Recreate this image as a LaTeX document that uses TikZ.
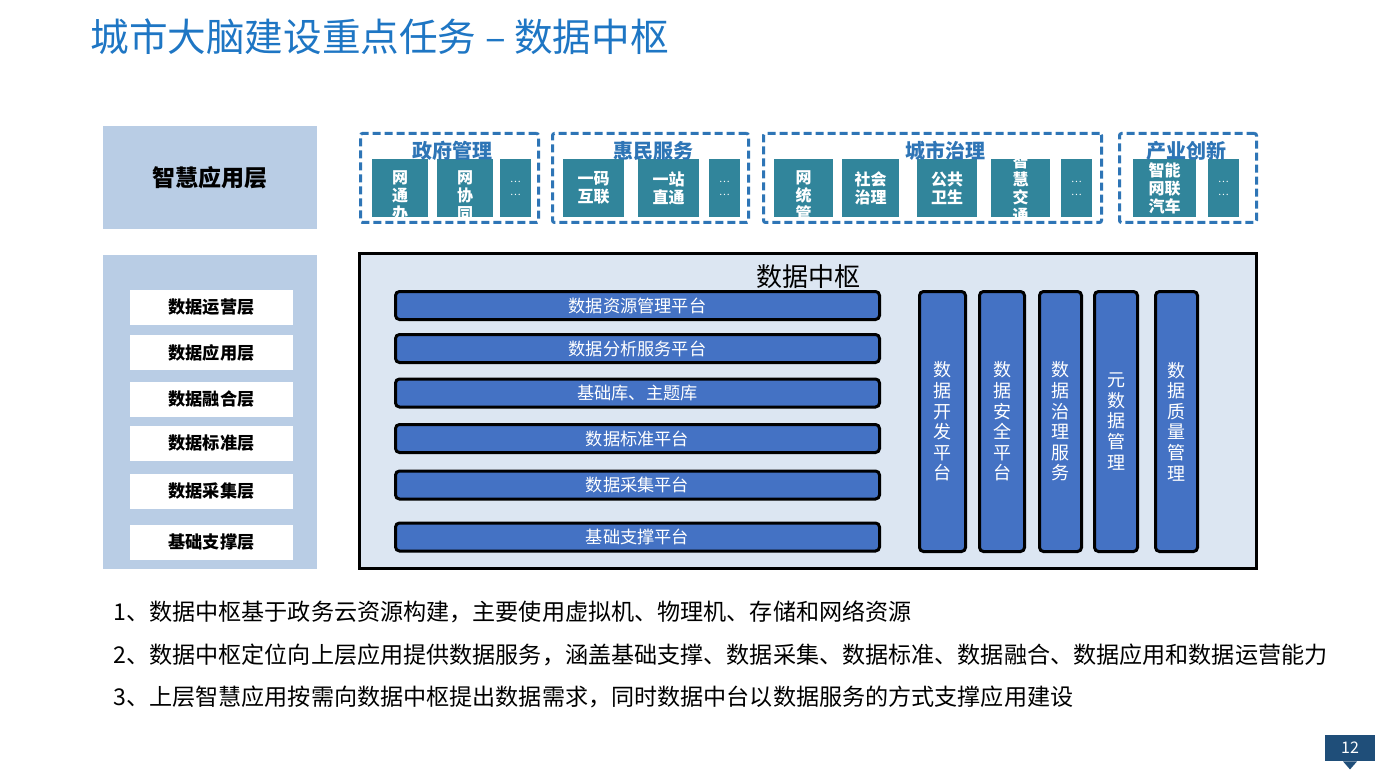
\documentclass[tikz,border=0pt]{standalone}
\usepackage{fontspec}
\setmainfont{Noto Sans CJK SC}
\usepackage{tikz}
\definecolor{titleblue}{RGB}{30,118,196}
\definecolor{panelblue}{RGB}{185,205,229}
\definecolor{hubfill}{RGB}{220,230,242}
\definecolor{barblue}{RGB}{68,114,196}
\definecolor{appteal}{RGB}{49,133,155}
\definecolor{groupblue}{RGB}{46,117,182}
\definecolor{pageblue}{RGB}{31,78,121}
\tikzset{
  panel/.style={fill=panelblue, inner sep=0pt, outer sep=0pt},
  layerbox/.style={fill=white, minimum width=81.5pt, minimum height=17.5pt, inner sep=0pt,
    font=\bfseries\fontsize{8.6pt}{10pt}\selectfont},
  hub/.style={draw=black, line width=1.5pt, fill=hubfill, inner sep=0pt},
  hbar/.style={draw=black, line width=1.5pt, fill=barblue, rounded corners=2pt, text=white,
    minimum width=242pt, minimum height=14pt, inner sep=0pt,
    font=\fontsize{8.6pt}{10pt}\selectfont},
  vbar/.style={draw=black, line width=1.5pt, fill=barblue, rounded corners=2pt, text=white,
    minimum height=130pt, inner sep=0pt, align=center,
    font=\fontsize{9pt}{10.3pt}\selectfont},
  groupbox/.style={draw=groupblue, line width=1.5pt, dash pattern=on 4pt off 2pt,
    rounded corners=1pt, minimum height=44.5pt, inner sep=0pt},
  grouptitle/.style={text=groupblue, inner sep=0pt, font=\bfseries\fontsize{10pt}{12pt}\selectfont},
  appbox/.style={fill=appteal, minimum height=29pt, inner sep=0pt, outer sep=0pt},
  apptext/.style={text=white, align=center, inner sep=0pt,
    font=\bfseries\fontsize{8pt}{9pt}\selectfont},
  dotstext/.style={text=white, align=center, inner sep=0pt,
    font=\fontsize{5pt}{6.5pt}\selectfont},
  note/.style={anchor=west, inner sep=0pt, font=\fontsize{11.55pt}{14pt}\selectfont}
}
% teal box with its text clipped to the box
\newcommand\appBox[5]{%
  \node[appbox, minimum width=#3,
    path picture={\node[apptext] at ([yshift=#5]path picture bounding box.center) {#4};}]
    (#1) at (#2,188) {};
}
\newcommand\dotsBox[2]{%
  \node[appbox, minimum width=15.5pt,
    path picture={\node[dotstext] at (path picture bounding box.center) {…\\…};}]
    (#1) at (#2,188) {};
}

\begin{document}
\begin{tikzpicture}[x=0.5pt,y=-0.5pt]
  \fill[white] (0,0) rectangle (1375,770);
  \useasboundingbox (0,0) rectangle (1375,770);

  % title
  \node[anchor=west, text=titleblue, inner sep=0pt, font=\fontsize{19.3pt}{22pt}\selectfont]
    (title) at (90,37) {城市大脑建设重点任务 – 数据中枢};

  % left column
  \node[panel, minimum width=107pt, minimum height=51.5pt,
    font=\bfseries\fontsize{11.5pt}{13pt}\selectfont] (app) at (210,177.5) {智慧应用层};
  \node[panel, minimum width=107pt, minimum height=157pt] (layers) at (210,412) {};
  \foreach \y/\name/\txt in {307.5/yy/数据运营层, 352.5/yyc/数据应用层, 399.5/rh/数据融合层,
      443.5/bzc/数据标准层, 491.5/cjc/数据采集层, 542.5/zcc/基础支撑层}
    \node[layerbox] (\name) at (211.5,\y) {\txt};

  % data hub
  \node[hub, minimum width=448.5pt, minimum height=157.5pt] (hub) at (808,411) {};
  \node[inner sep=0pt, font=\fontsize{13pt}{15pt}\selectfont] (hublabel) at (808,277) {数据中枢};
  \foreach \y/\name/\txt in {305.5/zy/数据资源管理平台, 348.5/fx/数据分析服务平台,
      393/zt/基础库、主题库, 438.5/bz/数据标准平台, 485/cj/数据采集平台, 537/zc/基础支撑平台}
    \node[hbar] (\name) at (637.5,\y) {\txt};
  \foreach \x/\w/\name/\txt in {942.5/23pt/kf/数\\据\\开\\发\\平\\台,
      1002/22.5pt/aq/数\\据\\安\\全\\平\\台, 1060.5/21pt/zl/数\\据\\治\\理\\服\\务,
      1116/21.5pt/ys/元\\数\\据\\管\\理, 1176.5/21pt/zlg/数\\据\\质\\量\\管\\理}
    \node[vbar, minimum width=\w] (\name) at (\x,421.5) {\txt};

  % application groups
  \node[groupbox, minimum width=89pt] (gov) at (449.5,178) {};
  \appBox{wtb}{400}{28pt}{网\\通\\办}{-4pt}
  \appBox{wxt}{465}{28pt}{网\\协\\同}{-4pt}
  \dotsBox{govdots}{515.5}
  \node[grouptitle] (govtitle) at (452,151) {政府管理};

  \node[groupbox, minimum width=98pt] (ppl) at (650.5,178) {};
  \appBox{ymhl}{593.5}{30.5pt}{一码\\互联}{0pt}
  \appBox{yzzt}{668.5}{30.5pt}{一站\\直通}{0pt}
  \dotsBox{ppldots}{724.5}
  \node[grouptitle] (ppltitle) at (653,151) {惠民服务};

  \node[groupbox, minimum width=169pt] (city) at (932.5,178) {};
  \appBox{wtg}{803.5}{29.5pt}{网\\统\\管}{-4pt}
  \appBox{shzl}{870.5}{28.5pt}{社会\\治理}{0pt}
  \appBox{ggws}{947}{30pt}{公共\\卫生}{0pt}
  \appBox{zhjt}{1020.5}{29.5pt}{智\\慧\\交\\通}{0pt}
  \dotsBox{citydots}{1076.5}
  \node[grouptitle] (citytitle) at (945,151) {城市治理};

  \node[groupbox, minimum width=68.5pt] (ind) at (1188,178) {};
  \appBox{znqc}{1164.5}{31.5pt}{智能\\网联\\汽车}{0pt}
  \dotsBox{inddots}{1223.5}
  \node[grouptitle] (indtitle) at (1186,151) {产业创新};

  % notes
  \node[note] (n1) at (113,612) {1、数据中枢基于政务云资源构建，主要使用虚拟机、物理机、存储和网络资源};
  \node[note] (n2) at (113,655) {2、数据中枢定位向上层应用提供数据服务，涵盖基础支撑、数据采集、数据标准、数据融合、数据应用和数据运营能力};
  \node[note] (n3) at (113,697) {3、上层智慧应用按需向数据中枢提出数据需求，同时数据中台以数据服务的方式支撑应用建设};

  % page number
  \node[fill=pageblue, text=white, minimum width=25pt, minimum height=13pt, inner sep=0pt,
    font=\fontsize{8pt}{9pt}\selectfont] (page) at (1350,748) {12};
  \fill[pageblue] ([xshift=-3.5pt]page.south) -- ([xshift=3.5pt]page.south)
    -- ([yshift=-4pt]page.south) -- cycle;
\end{tikzpicture}
\end{document}
